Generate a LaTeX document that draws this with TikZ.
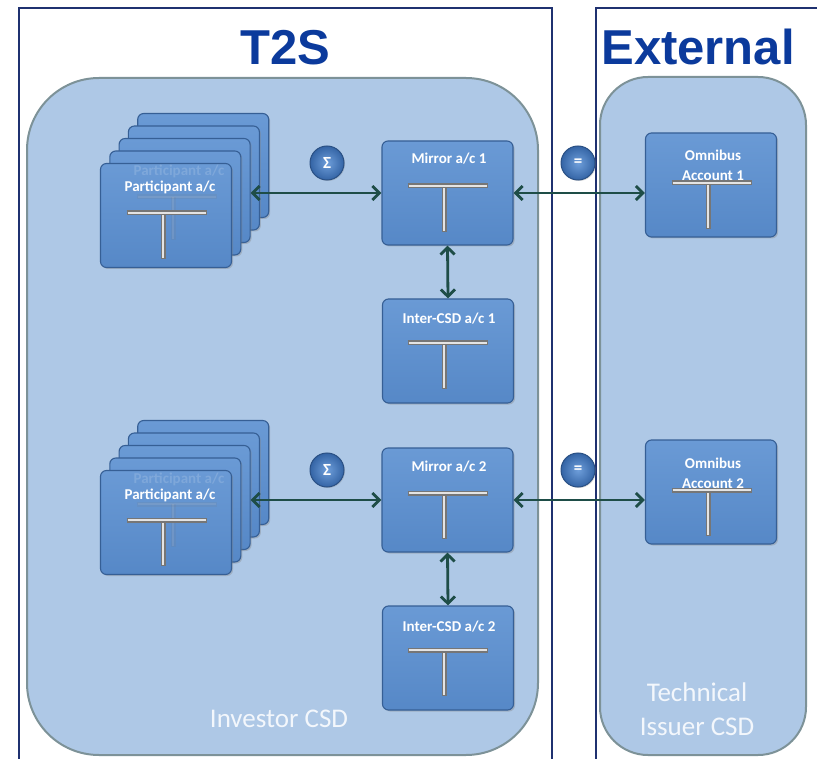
\documentclass[tikz,border=0pt]{standalone}
\usepackage{fontspec}
\setmainfont{Carlito}
\newfontfamily\titlefont{Liberation Sans}
\usetikzlibrary{arrows.meta,shadows}
\definecolor{frameblue}{HTML}{1F3170}
\definecolor{titleblue}{HTML}{0B3A9C}
\definecolor{regionfill}{HTML}{AEC8E6}
\definecolor{regionedge}{HTML}{7D9298}
\definecolor{cardtop}{HTML}{6A9AD5}
\definecolor{cardfill}{HTML}{5688C7}
\definecolor{cardedge}{HTML}{365F95}
\definecolor{badgein}{HTML}{6E9EDA}
\definecolor{badgeout}{HTML}{3464A5}
\definecolor{arrowgreen}{HTML}{1E4D47}
\definecolor{bargray}{HTML}{767676}
\definecolor{barlight}{HTML}{E4E4E4}
\definecolor{paletext}{HTML}{F3F7FC}
\tikzset{
  frame/.style={draw=frameblue, line width=1.6pt, fill=white},
  region/.style={draw=regionedge, line width=2pt, fill=regionfill},
  card/.style={draw=cardedge, line width=1.1pt, top color=cardtop, bottom color=cardfill,
    rounded corners=6pt, minimum width=131pt, minimum height=104pt, inner sep=0pt,
    drop shadow={shadow xshift=1.5pt, shadow yshift=-1.5pt, opacity=0.35}},
  boxtxt/.style={text=white, font=\bfseries\fontsize{15}{18}\selectfont, anchor=base, inner sep=0pt},
  ghosttxt/.style={boxtxt, opacity=0.15},
  regiontxt/.style={text=paletext, font=\fontsize{27}{35}\selectfont, anchor=base, inner sep=0pt},
  titletxt/.style={text=titleblue, font=\titlefont\bfseries\fontsize{49}{55}\selectfont, anchor=base, inner sep=0pt},
  badge/.style={circle, minimum size=34pt, inner sep=0pt, inner color=badgein, outer color=badgeout,
    draw=badgeout!80!black, line width=1pt,
    text=white, font=\bfseries\fontsize{17}{17}\selectfont,
    drop shadow={shadow xshift=1pt, shadow yshift=-1pt, opacity=0.3}},
  arr/.style={draw=arrowgreen, line width=2.8pt, {Straight Barb[length=7pt,width=14pt]}-{Straight Barb[length=7pt,width=14pt]}},
  barout/.style={draw=bargray, line width=5pt},
  barin/.style={draw=barlight, line width=2.4pt},
}
\newcommand\tbar[4]{% cx, y, ybottom, opacity
  \begin{scope}[opacity=#4]
  \draw[barout] ({#1-3.5},#2) -- ({#1-3.5},#3);
  \draw[barin] ({#1-3.5},#2) -- ({#1-3.5},{#3-1});
  \draw[barout] ({#1-40},#2) -- ({#1+40},#2);
  \draw[barin] ({#1-39},#2) -- ({#1+39},#2);
  \end{scope}}
\newcommand\pstack[3]{%
  \foreach \k/\n in {4/e,3/d,2/c,1/b,0/a} {
    \node[card] (#1\n) at ({#2+9.3*\k},{#3-12.5*\k}) {};
  }}
\begin{document}
\begin{tikzpicture}[x=1pt, y=-1pt]
\useasboundingbox (0,0) rectangle (817,759);
\clip (0,0) rectangle (817,759);
% frames
\draw[frame] (19,8) rectangle (552,800);
\draw[frame] (596,8) rectangle (840,800);
\node[titletxt] (t2s) at (285,65) {T2S};
\node[titletxt] (ext) at (698,65) {External};
% regions
\draw[region, rounded corners=72pt] (27,78) rectangle (538,755);
\draw[region, rounded corners=48pt] (600,77) rectangle (806,755);
\node[regiontxt] (inv) at (279,727) {Investor CSD};
\node[regiontxt] (tech1) at (697,701) {Technical};
\node[regiontxt] (tech2) at (697,735) {Issuer CSD};
% stack 1
\pstack{p1}{166}{215.5}
\node[ghosttxt] (p1g) at (179,176) {Participant a/c};
\tbar{176.5}{197}{240}{0.12}
\node[boxtxt] (p1t) at (170,192) {Participant a/c};
\tbar{166.5}{213}{259}{1}
% stack 2
\pstack{p2}{166}{522.5}
\node[ghosttxt] (p2g) at (179,483) {Participant a/c};
\tbar{176.5}{504}{547}{0.12}
\node[boxtxt] (p2t) at (170,499) {Participant a/c};
\tbar{166.5}{520}{566}{1}
% mirror, inter-csd, omnibus (1)
\node[card] (m1) at (447.5,193) {};
\node[boxtxt] (m1t) at (449,164) {Mirror a/c 1};
\tbar{447.5}{186}{232}{1}
\node[card] (i1) at (448,351) {};
\node[boxtxt] (i1t) at (449,324) {Inter-CSD a/c 1};
\tbar{447.5}{343}{389}{1}
\node[card] (o1) at (711,185) {};
\node[boxtxt] (o1t) at (713,161) {Omnibus};
\node[boxtxt] (o1u) at (713,181) {Account 1};
\tbar{711.5}{183}{229}{1}
% mirror, inter-csd, omnibus (2)
\node[card] (m2) at (447.5,500) {};
\node[boxtxt] (m2t) at (449,471) {Mirror a/c 2};
\tbar{447.5}{493}{539}{1}
\node[card] (i2) at (448,658) {};
\node[boxtxt] (i2t) at (449,631) {Inter-CSD a/c 2};
\tbar{447.5}{650}{696}{1}
\node[card] (o2) at (711,492) {};
\node[boxtxt] (o2t) at (713,468) {Omnibus};
\node[boxtxt] (o2u) at (713,488) {Account 2};
\tbar{711.5}{490}{536}{1}
% badges
\node[badge] (s1) at (327,163) {Σ};
\node[badge] (e1) at (578,163) {=};
\node[badge] (s2) at (327,470) {Σ};
\node[badge] (e2) at (578,470) {=};
% connectors
\draw[arr] (m1.west -| p1c.east) -- (m1.west);
\draw[arr] (m1.east) -- (m1.east -| o1.west);
\draw[arr] (m1.south) -- (i1.north);
\draw[arr] (m2.west -| p2c.east) -- (m2.west);
\draw[arr] (m2.east) -- (m2.east -| o2.west);
\draw[arr] (m2.south) -- (i2.north);
\end{tikzpicture}
\end{document}
